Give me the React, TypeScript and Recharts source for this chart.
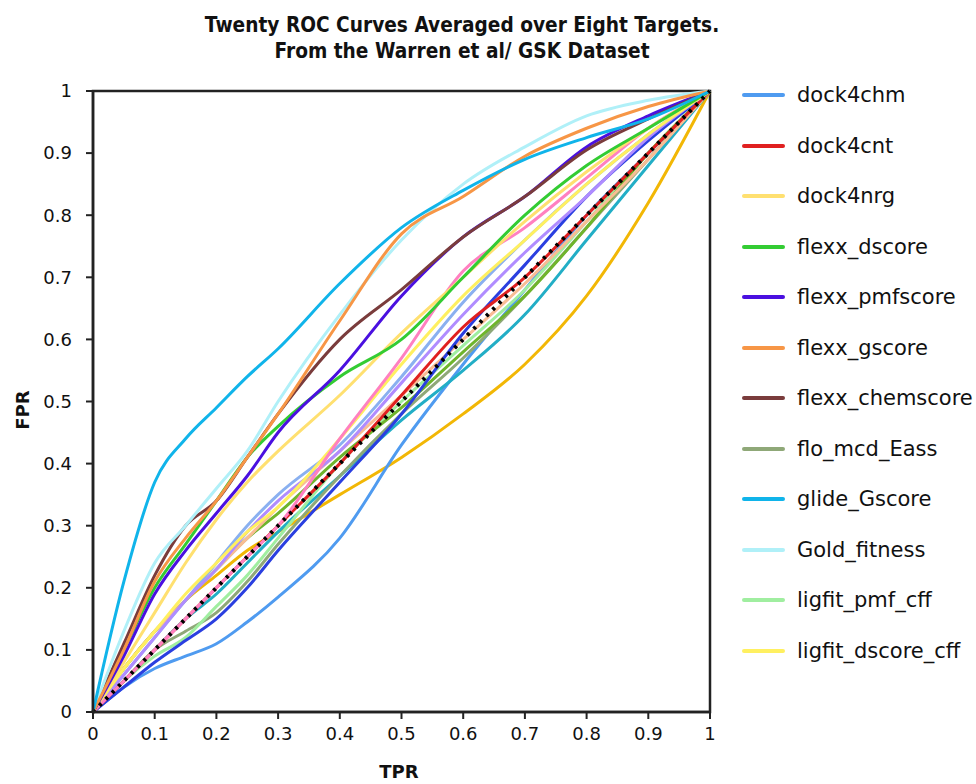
import { LineChart, Line, XAxis, YAxis, ReferenceArea } from 'recharts'

// x positions (TPR) shared by every curve
const tpr = [0, 0.05, 0.1, 0.15, 0.2, 0.25, 0.3, 0.4, 0.5, 0.6, 0.7, 0.8, 0.9, 1]
const tickValues = [0, 0.1, 0.2, 0.3, 0.4, 0.5, 0.6, 0.7, 0.8, 0.9, 1]

// named curves (shown in legend)
const dock4chm = [0, 0.04, 0.07, 0.09, 0.11, 0.145, 0.185, 0.28, 0.43, 0.56, 0.68, 0.8, 0.9, 1]
const dock4cnt = [0, 0.05, 0.1, 0.15, 0.2, 0.25, 0.3, 0.4, 0.51, 0.62, 0.7, 0.8, 0.9, 1]
const dock4nrg = [0, 0.08, 0.16, 0.24, 0.31, 0.37, 0.42, 0.51, 0.61, 0.7, 0.79, 0.87, 0.94, 1]
const flexxDscore = [0, 0.1, 0.2, 0.27, 0.34, 0.41, 0.46, 0.54, 0.6, 0.7, 0.8, 0.88, 0.94, 1]
const flexxPmfscore = [0, 0.09, 0.19, 0.26, 0.32, 0.38, 0.45, 0.55, 0.67, 0.765, 0.83, 0.91, 0.96, 1]
const flexxGscore = [0, 0.1, 0.21, 0.28, 0.34, 0.41, 0.48, 0.63, 0.77, 0.83, 0.895, 0.94, 0.975, 1]
const flexxChemscore = [0, 0.11, 0.22, 0.3, 0.34, 0.41, 0.48, 0.6, 0.68, 0.765, 0.83, 0.905, 0.955, 1]
const floMcdEass = [0, 0.05, 0.1, 0.13, 0.16, 0.21, 0.27, 0.38, 0.48, 0.57, 0.67, 0.78, 0.89, 1]
const glideGscore = [0, 0.21, 0.37, 0.44, 0.49, 0.54, 0.585, 0.69, 0.78, 0.84, 0.89, 0.925, 0.955, 1]
const goldFitness = [0, 0.13, 0.24, 0.3, 0.36, 0.42, 0.5, 0.64, 0.76, 0.85, 0.91, 0.96, 0.985, 1]
const ligfitPmfCff = [0, 0.05, 0.09, 0.12, 0.17, 0.22, 0.28, 0.4, 0.5, 0.59, 0.68, 0.79, 0.9, 1]
const ligfitDscoreCff = [0, 0.07, 0.13, 0.19, 0.24, 0.29, 0.33, 0.44, 0.56, 0.67, 0.76, 0.85, 0.93, 1]

// the other eight curves (not in legend)
const extraGold = [0, 0.07, 0.13, 0.18, 0.22, 0.26, 0.29, 0.35, 0.41, 0.48, 0.56, 0.67, 0.82, 1]
const extraBlue = [0, 0.04, 0.08, 0.115, 0.15, 0.2, 0.26, 0.37, 0.48, 0.61, 0.72, 0.83, 0.92, 1]
const extraPink = [0, 0.05, 0.1, 0.15, 0.2, 0.25, 0.3, 0.44, 0.57, 0.71, 0.78, 0.86, 0.94, 1]
const extraLavender = [0, 0.06, 0.12, 0.18, 0.23, 0.29, 0.34, 0.42, 0.53, 0.64, 0.74, 0.83, 0.925, 1]
const extraSteel = [0, 0.06, 0.12, 0.18, 0.24, 0.3, 0.35, 0.43, 0.54, 0.66, 0.76, 0.85, 0.93, 1]
const extraPeach = [0, 0.07, 0.13, 0.18, 0.23, 0.28, 0.33, 0.42, 0.51, 0.6, 0.69, 0.79, 0.89, 1]
const extraTeal = [0, 0.05, 0.1, 0.15, 0.19, 0.24, 0.29, 0.38, 0.47, 0.55, 0.64, 0.76, 0.88, 1]
const extraOlive = [0, 0.07, 0.13, 0.18, 0.23, 0.28, 0.32, 0.41, 0.49, 0.58, 0.67, 0.78, 0.9, 1]

// random-classifier diagonal
const diagonal = [0, 0.05, 0.1, 0.15, 0.2, 0.25, 0.3, 0.4, 0.5, 0.6, 0.7, 0.8, 0.9, 1]

const series = [
  { key: 'extraGold', values: extraGold, color: '#f2b705' },
  { key: 'dock4chm', values: dock4chm, color: '#4f9bf0' },
  { key: 'extraTeal', values: extraTeal, color: '#22aec6' },
  { key: 'flo_mcd_Eass', values: floMcdEass, color: '#8fa878' },
  { key: 'ligfit_pmf_cff', values: ligfitPmfCff, color: '#a0eea0' },
  { key: 'extraOlive', values: extraOlive, color: '#6fb52c' },
  { key: 'extraPeach', values: extraPeach, color: '#f9bc94' },
  { key: 'extraBlue', values: extraBlue, color: '#2a3fe0' },
  { key: 'dock4cnt', values: dock4cnt, color: '#e02020' },
  { key: 'extraSteel', values: extraSteel, color: '#8ab0f0' },
  { key: 'extraLavender', values: extraLavender, color: '#b08cff' },
  { key: 'ligfit_dscore_cff', values: ligfitDscoreCff, color: '#fff060' },
  { key: 'extraPink', values: extraPink, color: '#ff80c0' },
  { key: 'dock4nrg', values: dock4nrg, color: '#ffe070' },
  { key: 'flexx_dscore', values: flexxDscore, color: '#33cc33' },
  { key: 'flexx_pmfscore', values: flexxPmfscore, color: '#4a10e0' },
  { key: 'flexx_chemscore', values: flexxChemscore, color: '#7a3c3c' },
  { key: 'Gold_fitness', values: goldFitness, color: '#b0f0f8' },
  { key: 'flexx_gscore', values: flexxGscore, color: '#f79646' },
  { key: 'glide_Gscore', values: glideGscore, color: '#10b4ea' },
]

const legendOrder = [
  'dock4chm', 'dock4cnt', 'dock4nrg', 'flexx_dscore', 'flexx_pmfscore', 'flexx_gscore',
  'flexx_chemscore', 'flo_mcd_Eass', 'glide_Gscore', 'Gold_fitness', 'ligfit_pmf_cff', 'ligfit_dscore_cff',
]

const data = tpr.map((x, i) => {
  const row: Record<string, number> = { x, diagonal: diagonal[i] }
  series.forEach(s => { row[s.key] = s.values[i] })
  return row
})

const font = '"DejaVu Sans", Verdana, sans-serif'

export default function App() {
  return (
    <div style={{ position: 'absolute', left: 0, top: 0, width: 976, height: 784, background: '#fff', fontFamily: font }}>
      <div style={{ position: 'absolute', left: 112, width: 700, top: 12, textAlign: 'center', fontWeight: 'bold', fontSize: 21, lineHeight: '26px', color: '#111', transform: 'scaleX(0.885)' }}>
        Twenty ROC Curves Averaged over Eight Targets.<br />From the Warren et al/ GSK Dataset
      </div>

      <LineChart width={720} height={784} data={data} margin={{ top: 91, right: 10, bottom: 32, left: 20 }}>
        <XAxis
          type="number"
          dataKey="x"
          domain={[0, 1]}
          ticks={tickValues}
          height={40}
          tickSize={7}
          tickMargin={8}
          axisLine={{ stroke: '#222', strokeWidth: 2.5 }}
          tickLine={{ stroke: '#222', strokeWidth: 2 }}
          tick={{ fill: '#111', fontSize: 18, fontFamily: font }}
          tickFormatter={(v: number) => String(v)}
        />
        <YAxis
          type="number"
          domain={[0, 1]}
          ticks={tickValues}
          width={73}
          tickSize={7}
          tickMargin={14}
          axisLine={{ stroke: '#222', strokeWidth: 2.5 }}
          tickLine={{ stroke: '#222', strokeWidth: 2 }}
          tick={{ fill: '#111', fontSize: 18, fontFamily: font }}
          tickFormatter={(v: number) => String(v)}
        />
        <ReferenceArea x1={0} x2={1} y1={0} y2={1} fill="none" stroke="#222" strokeWidth={2.5} ifOverflow="visible" />
        {series.map(s => (
          <Line
            key={s.key}
            type="monotone"
            dataKey={s.key}
            stroke={s.color}
            strokeWidth={3}
            dot={false}
            activeDot={false}
            isAnimationActive={false}
          />
        ))}
        <Line
          type="linear"
          dataKey="diagonal"
          stroke="#000"
          strokeWidth={4}
          strokeDasharray="3 6"
          dot={false}
          activeDot={false}
          isAnimationActive={false}
        />
      </LineChart>

      <div style={{ position: 'absolute', left: 0, top: 410, width: 44, textAlign: 'center', transform: 'translateY(-50%) rotate(-90deg)', fontWeight: 'bold', fontSize: 18, color: '#111' }}>
        FPR
      </div>
      <div style={{ position: 'absolute', left: 349, top: 761, width: 100, textAlign: 'center', fontWeight: 'bold', fontSize: 18, color: '#111' }}>
        TPR
      </div>

      <div style={{ position: 'absolute', left: 742, top: 70 }}>
        {legendOrder.map(name => {
          const s = series.find(d => d.key === name)!
          return (
            <div key={name} style={{ display: 'flex', alignItems: 'center', height: 50.5 }}>
              <div style={{ width: 43, height: 4, background: s.color, borderRadius: 2, marginRight: 12 }} />
              <span style={{ fontSize: 21, color: '#111', whiteSpace: 'nowrap' }}>{name}</span>
            </div>
          )
        })}
      </div>
    </div>
  )
}
